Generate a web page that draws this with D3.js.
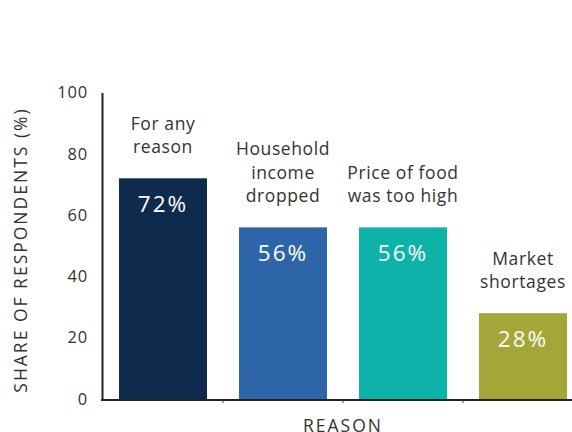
<!DOCTYPE html>
<html><head><meta charset="utf-8">
<script src="https://cdn.jsdelivr.net/npm/d3@7"></script>
<style>body{margin:0;background:#fff}svg{display:block}</style>
</head><body>
<svg id="c" width="572" height="432"></svg>
<script>
const categories = [["For any","reason"],["Household","income","dropped"],["Price of food","was too high"],["Market","shortages"]];
const values = [72, 56, 56, 28];
const colors = ["#0e2a4d", "#2d66a8", "#0db3a9", "#a4a637"];
const yTicks = [0, 20, 40, 60, 80, 100];

const svg = d3.select("#c");
const font = "'Open Sans', 'Noto Sans', sans-serif";
const x = d3.scaleBand().domain(d3.range(categories.length)).range([103, 583]).paddingInner(32/120).paddingOuter(16/120);
const y = d3.scaleLinear().domain([0, 100]).range([399, 92.5]);

// bars
svg.selectAll("rect.bar").data(values).join("rect")
  .attr("x", (d,i) => x(i)).attr("width", x.bandwidth())
  .attr("y", d => y(d)).attr("height", d => y(0) - y(d))
  .attr("fill", (d,i) => colors[i]);

// y axis
const ya = svg.append("g").attr("transform", "translate(102,0)")
  .call(d3.axisLeft(y).tickValues(yTicks).tickSize(0).tickPadding(14));
ya.select(".domain").attr("stroke", "#222").attr("stroke-width", 2);
ya.selectAll("text").attr("font-family", font).attr("font-size", 16.5).attr("letter-spacing", 0.8).attr("fill", "#333");

// x axis
const xa = svg.append("g").attr("transform", "translate(0,400)");
xa.append("line").attr("x1", 101).attr("x2", 572).attr("y1", 0).attr("y2", 0).attr("stroke", "#222").attr("stroke-width", 2);
xa.selectAll("line.t").data(d3.range(1, categories.length)).join("line")
  .attr("x1", i => x(i) - (x.step()-x.bandwidth())/2).attr("x2", i => x(i) - (x.step()-x.bandwidth())/2)
  .attr("y1", 0).attr("y2", 3).attr("stroke", "#444").attr("stroke-width", 1);

// category labels
categories.forEach((lines, i) => {
  const cx = x(i) + x.bandwidth()/2;
  const lastBase = y(values[i]) - 25;
  const t = svg.append("text").attr("text-anchor", "middle").attr("font-family", font)
    .attr("font-size", 17.5).attr("letter-spacing", 0.6).attr("fill", "#333");
  lines.forEach((ln, j) => {
    t.append("tspan").attr("x", cx).attr("y", lastBase - (lines.length - 1 - j) * 23.5).text(ln);
  });
});

// value labels
svg.selectAll("text.val").data(values).join("text")
  .attr("x", (d,i) => x(i) + x.bandwidth()/2).attr("y", d => y(d) + 34)
  .attr("text-anchor", "middle").attr("font-family", font).attr("font-size", 22.5)
  .attr("letter-spacing", 2).attr("fill", "#fff").text(d => d + "%");

// axis titles
svg.append("text").attr("transform", "translate(27,250) rotate(-90)")
  .attr("text-anchor", "middle").attr("font-family", font).attr("font-size", 17.5)
  .attr("letter-spacing", 2).attr("fill", "#333").text("SHARE OF RESPONDENTS (%)");
svg.append("text").attr("x", 343).attr("y", 432)
  .attr("text-anchor", "middle").attr("font-family", font).attr("font-size", 17.5)
  .attr("letter-spacing", 2).attr("fill", "#333").text("REASON");
</script>
</body></html>
